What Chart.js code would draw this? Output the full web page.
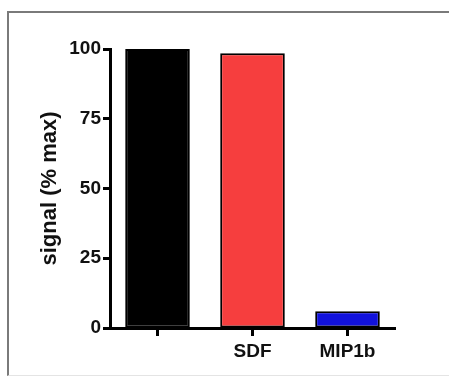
<!DOCTYPE html>
<html>
<head>
<meta charset="utf-8">
<script src="https://cdn.jsdelivr.net/npm/chart.js@4/dist/chart.umd.min.js"></script>
<style>
  html, body { margin: 0; padding: 0; background: #fff; }
  #frame {
    position: absolute; left: 7px; top: 11px;
    width: 442px; height: 362px;
    border-top: 2px solid #7a7a7a;
    border-left: 2px solid #7a7a7a;
    border-bottom: 1px solid #e4e4e4;
  }
  #chart { display: block; }
</style>
</head>
<body>
<div id="frame"><canvas id="chart" width="442" height="362"></canvas></div>
<script>
// values
const labels = ['', 'SDF', 'MIP1b'];
const signal = [100, 98.5, 6];
const barColors = ['#000000', '#f63e3e', '#1212dc'];
const yTicks = [0, 25, 50, 75, 100];

const font = 'Arial, "Liberation Sans", Helvetica, sans-serif';

new Chart(document.getElementById('chart'), {
  type: 'bar',
  data: {
    labels: labels,
    datasets: [{
      data: signal,
      backgroundColor: barColors,
      borderColor: '#000',
      borderWidth: 2,
      borderSkipped: false,
      categoryPercentage: 1,
      barPercentage: 0.68
    }]
  },
  options: {
    responsive: false,
    animation: false,
    layout: { padding: { top: 36, right: 56, left: 28, bottom: 0 } },
    plugins: { legend: { display: false }, tooltip: { enabled: false } },
    scales: {
      x: {
        grid: { offset: false, drawOnChartArea: false, tickLength: 8, tickWidth: 3, tickColor: '#000' },
        border: { color: '#000', width: 3 },
        ticks: { color: '#111', padding: 4, font: { family: font, size: 19, weight: 'bold' } },
        afterFit: (s) => { s.height = 47; }
      },
      y: {
        min: 0, max: 100,
        afterBuildTicks: (s) => { s.ticks = yTicks.map(v => ({ value: v })); },
        grid: { drawOnChartArea: false, tickLength: 7, tickWidth: 3, tickColor: '#000' },
        border: { color: '#000', width: 3 },
        ticks: { color: '#111', padding: 2, font: { family: font, size: 19, weight: 'bold' } },
        title: {
          display: true, text: 'signal (% max)', color: '#111',
          font: { family: font, size: 22, weight: 'bold' }, padding: { top: 0, bottom: 8 }
        },
        afterFit: (s) => { s.width = 73; }
      }
    }
  }
});
</script>
</body>
</html>
